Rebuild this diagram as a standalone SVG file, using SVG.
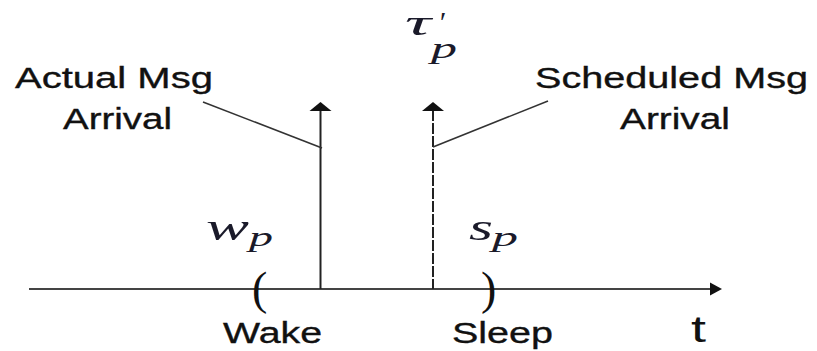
<svg xmlns="http://www.w3.org/2000/svg" width="817" height="351" viewBox="0 0 817 351">
<style>
.lbl{font-family:"Liberation Sans",Arial,sans-serif;font-size:29px;fill:#111;stroke:#111;stroke-width:0.35}
.math{font-family:"Liberation Serif","Times New Roman",serif;font-style:italic;fill:#1a1a2a}
.par{font-family:"Liberation Serif","Times New Roman",serif;font-size:46px;fill:#111}
.ln{stroke:#222;stroke-width:2;fill:none}
.lead{stroke:#333;stroke-width:1.6;fill:none}
</style>
<rect width="817" height="351" fill="#fff"/>
<g id="connectors">
<line class="ln" x1="29" y1="289" x2="710" y2="289" style="stroke:#444"/>
<polygon points="722,289 710,282.5 710,295.5" fill="#111"/>
<line class="ln" x1="320.5" y1="110" x2="320.5" y2="289"/>
<polygon points="320.5,102 309.5,111 331.5,111" fill="#111"/>
<line class="ln" x1="433" y1="110" x2="433" y2="289" stroke-dasharray="11 2"/>
<polygon points="433,102 422,111 444,111" fill="#111"/>
<line class="lead" x1="203" y1="102" x2="322" y2="148"/>
<line class="lead" x1="433" y1="147" x2="548" y2="101"/>
</g>
<g id="actual-label">
<text class="lbl" x="15" y="88" textLength="198" lengthAdjust="spacingAndGlyphs">Actual Msg</text>
<text class="lbl" x="63" y="129" textLength="109" lengthAdjust="spacingAndGlyphs">Arrival</text>
</g>
<g id="scheduled-label">
<text class="lbl" x="535" y="88" textLength="273" lengthAdjust="spacingAndGlyphs">Scheduled Msg</text>
<text class="lbl" x="620" y="129" textLength="110" lengthAdjust="spacingAndGlyphs">Arrival</text>
</g>
<g id="tau">
<text class="math" x="405" y="35" font-size="36" textLength="26" lengthAdjust="spacingAndGlyphs">τ</text>
<text class="math" x="438" y="32" font-size="30" font-style="normal">′</text>
<text class="math" x="431" y="58" font-size="30" textLength="26" lengthAdjust="spacingAndGlyphs">p</text>
</g>
<g id="wake">
<text class="math" x="206" y="240" font-size="38" textLength="43" lengthAdjust="spacingAndGlyphs">w</text>
<text class="math" x="249" y="246" font-size="28" textLength="24" lengthAdjust="spacingAndGlyphs">p</text>
<text class="par" x="252" y="304">(</text>
<text class="lbl" x="223" y="343" textLength="99" lengthAdjust="spacingAndGlyphs">Wake</text>
</g>
<g id="sleep">
<text class="math" x="469" y="240" font-size="38" textLength="24" lengthAdjust="spacingAndGlyphs">s</text>
<text class="math" x="492" y="246" font-size="28" textLength="26" lengthAdjust="spacingAndGlyphs">p</text>
<text class="par" x="481" y="304">)</text>
<text class="lbl" x="452" y="343" textLength="101" lengthAdjust="spacingAndGlyphs">Sleep</text>
</g>
<g id="time-label">
<text x="691" y="342" font-family="Liberation Sans,Arial,sans-serif" font-size="37" fill="#111" textLength="15" lengthAdjust="spacingAndGlyphs">t</text>
</g>
</svg>
